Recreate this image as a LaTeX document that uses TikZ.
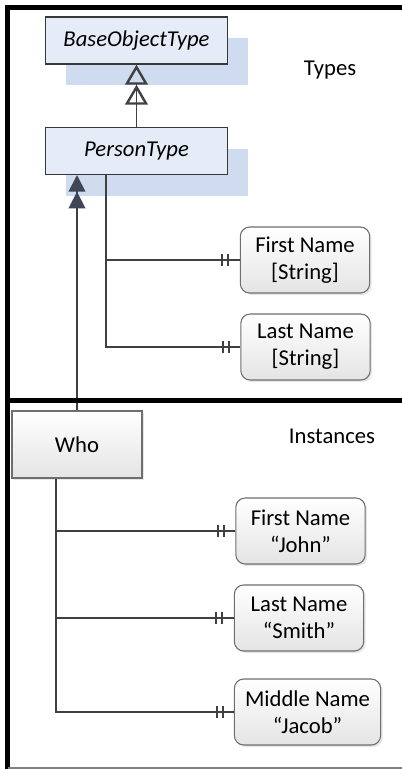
\documentclass[tikz,border=0pt]{standalone}
\usepackage{fontspec}
\setmainfont{Carlito}
\usepackage{tikz}
\usetikzlibrary{arrows.meta, positioning, shadows, decorations.markings}

\definecolor{typefill}{HTML}{E6ECF7}
\definecolor{typeshadow}{HTML}{CFDBEE}
\definecolor{typeline}{HTML}{383838}
\definecolor{linegray}{HTML}{404040}
\definecolor{attrline}{HTML}{6E6E6E}
\definecolor{attrbottom}{HTML}{E4E4E4}
\definecolor{tipfill}{HTML}{3F4756}

\tikzset{
  conn/.style={draw=linegray, line width=1.3pt},
  onetoone/.style={postaction={decorate}, decoration={markings,
    mark=at position -8.5pt with {\draw[linegray, line width=1.5pt] (0,-4.5pt) -- (0,4.5pt);},
    mark=at position -13pt with {\draw[linegray, line width=1.5pt] (0,-4.5pt) -- (0,4.5pt);}}},
  inherits/.style={-{Triangle[open, length=15pt, width=17pt, line width=1.8pt, sep=0pt] Triangle[open, length=15pt, width=17pt, line width=1.8pt]}},
  instanceof/.style={-{Triangle[fill=tipfill, color=tipfill, length=12.5pt, width=12.5pt, sep=0pt] Triangle[fill=tipfill, color=tipfill, length=12.5pt, width=12.5pt]}}
}

\begin{document}
\begin{tikzpicture}[x=0.75pt, y=-0.75pt, node distance=46.5pt,
  every node/.style={font=\fontsize{17pt}{20pt}\selectfont, align=center},
  typebox/.style={draw=typeline, fill=typefill, line width=1pt, minimum width=136.5pt, minimum height=35.25pt, inner sep=0pt,
    font=\fontsize{17pt}{20pt}\selectfont\itshape,
    general shadow={fill=typeshadow, shadow xshift=15.5pt, shadow yshift=-16pt}},
  attrbox/.style={draw=attrline, line width=0.8pt, rounded corners=7pt, top color=white, bottom color=attrbottom,
    minimum width=97pt, minimum height=49.5pt, inner xsep=8pt,
    drop shadow={shadow xshift=1.5pt, shadow yshift=-1.5pt, opacity=0.2}},
  whobox/.style={draw=attrline, line width=0.8pt, top color=white, bottom color=attrbottom,
    minimum width=97.5pt, minimum height=50.25pt,
    drop shadow={shadow xshift=1.5pt, shadow yshift=-1.5pt, opacity=0.2}}]
  \useasboundingbox (0,0) rectangle (402,769);

  \node (base) [typebox] at (136.5,40.5) {BaseObjectType};
  \node (person) [typebox, below=of base] {PersonType};
  \node (types) at (330,70) {Types};

  \node (fnstr) [attrbox] at (305,260) {First Name\\{[String]}};
  \node (lnstr) [attrbox] at (305.5,347) {Last Name\\{[String]}};

  \node (who) [whobox] at (77,444.5) {Who};
  \node (instances) at (332,436) {Instances};

  \node (fnjohn) [attrbox] at (300.5,531) {First Name\\“John”};
  \node (lnsmith) [attrbox] at (299,618) {Last Name\\“Smith”};
  \node (mnjacob) [attrbox] at (307.5,712) {Middle Name\\“Jacob”};

  \draw [conn, inherits] (person) -- (base);
  \draw [conn, instanceof] (who) -- (who |- person.south);

  \coordinate (ptrunk) at ([xshift=-22.875pt]person.south);
  \draw [conn, onetoone] (ptrunk) |- (lnstr);
  \draw [conn, onetoone] (ptrunk |- fnstr) -- (fnstr);

  \coordinate (wtrunk) at ([xshift=-15.75pt]who.south);
  \draw [conn, onetoone] (wtrunk) |- (mnjacob);
  \draw [conn, onetoone] (wtrunk |- fnjohn) -- (fnjohn);
  \draw [conn, onetoone] (wtrunk |- lnsmith) -- (lnsmith);

  \draw [line width=3.75pt] (7.5,769) -- (7.5,7.5) -- (402,7.5);
  \draw [line width=3.75pt] (7.5,400) -- (402,400);
  \draw [gray, line width=1.2pt] (7.5,768) -- (402,768);
\end{tikzpicture}
\end{document}
